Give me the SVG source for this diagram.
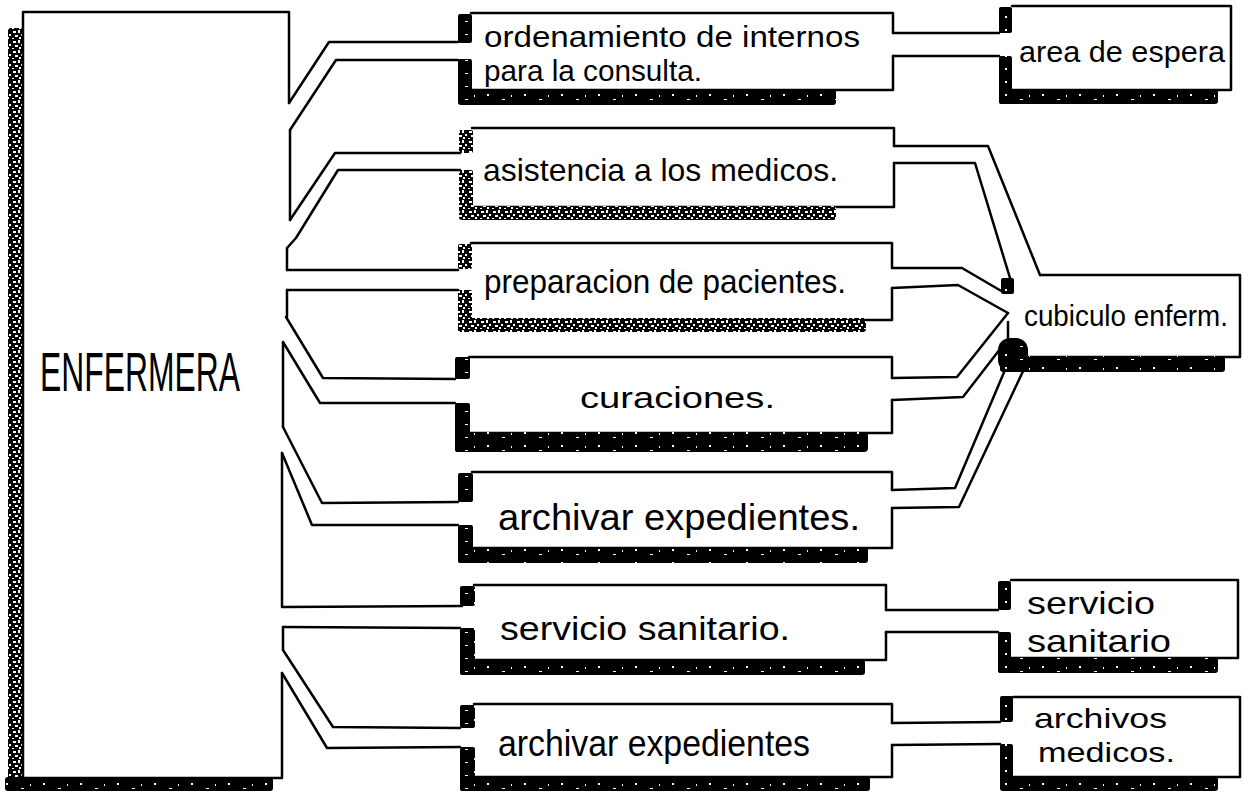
<svg xmlns="http://www.w3.org/2000/svg" width="1244" height="792" viewBox="0 0 1244 792">
<defs>
<pattern id="dk" patternUnits="userSpaceOnUse" width="37" height="13">
<rect width="37" height="13" fill="#000"/>
<rect x="6" y="3" width="2" height="2" fill="#fff"/>
<rect x="21" y="8" width="3" height="1" fill="#fff"/>
<rect x="30" y="4" width="1" height="2" fill="#fff"/>
</pattern>
<pattern id="sp" patternUnits="userSpaceOnUse" width="12" height="10">
<rect width="12" height="10" fill="#000"/>
<rect x="1" y="1" width="3" height="2" fill="#fff"/>
<rect x="6" y="0" width="2" height="3" fill="#fff"/>
<rect x="9" y="4" width="2" height="2" fill="#fff"/>
<rect x="3" y="5" width="3" height="2" fill="#fff"/>
<rect x="7" y="7" width="2" height="2" fill="#fff"/>
<rect x="0" y="8" width="2" height="1" fill="#fff"/>
</pattern>
</defs>
<style>
.o{fill:none;stroke:#000;stroke-width:2.5;stroke-linecap:round;stroke-linejoin:round}
.dk{fill:url(#dk)}
.sp{fill:url(#sp)}
.t{font-family:"Liberation Sans",Arial,sans-serif;fill:#000}
</style>
<rect width="1244" height="792" fill="#fff"/>

<g id="enfermera">
<rect class="sp" x="8" y="28" width="15" height="762" rx="3"/>
<rect class="dk" x="5" y="777" width="268" height="14" rx="3"/>
<path class="o" d="M23,12 H289 V103 M290,130 V220 M287,248 V270 M287,290 V317 M283,342 V427 M282,453 V607 M283,627 V650 M282,673 V778 H23 M23,12 V778"/>
<text class="t" x="40" y="391" font-size="56" textLength="200" lengthAdjust="spacingAndGlyphs">ENFERMERA</text>
</g>

<g id="ordenamiento">
<path class="o" d="M471,13 H893 V33 M893,56 V90 H471"/>
<rect class="dk" x="458" y="14" width="14" height="29" rx="2"/>
<rect class="dk" x="458" y="59" width="14" height="45" rx="2"/>
<rect class="dk" x="458" y="89" width="378" height="16" rx="3"/>
<text class="t" x="484" y="47" font-size="30" textLength="376" lengthAdjust="spacingAndGlyphs">ordenamiento de internos</text>
<text class="t" x="484" y="81" font-size="30" textLength="218" lengthAdjust="spacingAndGlyphs">para la consulta.</text>
</g>

<g id="asistencia">
<path class="o" d="M472,128 H894 V146 M894,163 V207 H472"/>
<rect class="sp" x="459" y="130" width="14" height="23" rx="2"/>
<rect class="sp" x="459" y="170" width="14" height="49" rx="2"/>
<rect class="sp" x="459" y="206" width="377" height="14" rx="3"/>
<text class="t" x="483" y="181" font-size="32" textLength="355" lengthAdjust="spacingAndGlyphs">asistencia a los medicos.</text>
</g>

<g id="preparacion">
<path class="o" d="M471,243 H892 V268 M892,288 V320 H471"/>
<rect class="sp" x="458" y="244" width="14" height="25" rx="2"/>
<rect class="sp" x="458" y="290" width="14" height="42" rx="2"/>
<rect class="sp" x="458" y="318" width="408" height="14" rx="3"/>
<text class="t" x="484" y="293" font-size="34" textLength="362" lengthAdjust="spacingAndGlyphs">preparacion de pacientes.</text>
</g>

<g id="curaciones">
<path class="o" d="M469,357 H892 V378 M892,400 V433 H469"/>
<rect class="dk" x="455" y="357" width="15" height="22" rx="2"/>
<rect class="dk" x="455" y="403" width="15" height="49" rx="2"/>
<rect class="dk" x="455" y="432" width="413" height="20" rx="4"/>
<text class="t" x="580" y="408" font-size="30" textLength="195" lengthAdjust="spacingAndGlyphs">curaciones.</text>
</g>

<g id="archivar1">
<path class="o" d="M472,472 H892 V490 M892,508 V548 H472"/>
<rect class="dk" x="458" y="473" width="15" height="29" rx="2"/>
<rect class="dk" x="458" y="525" width="15" height="38" rx="2"/>
<rect class="dk" x="458" y="547" width="410" height="16" rx="3"/>
<text class="t" x="498" y="530" font-size="36" textLength="362" lengthAdjust="spacingAndGlyphs">archivar expedientes.</text>
</g>

<g id="servicio1">
<path class="o" d="M474,585 H886 V610 M886,632 V660 H474"/>
<rect class="dk" x="460" y="586" width="15" height="20" rx="2"/>
<rect class="dk" x="460" y="628" width="15" height="47" rx="2"/>
<rect class="dk" x="460" y="659" width="405" height="16" rx="3"/>
<text class="t" x="500" y="640" font-size="34" textLength="290" lengthAdjust="spacingAndGlyphs">servicio sanitario.</text>
</g>

<g id="archivar2">
<path class="o" d="M474,704 H892 V723 M892,745 V777 H474"/>
<rect class="dk" x="460" y="705" width="15" height="23" rx="2"/>
<rect class="dk" x="460" y="747" width="15" height="44" rx="2"/>
<rect class="dk" x="460" y="776" width="410" height="15" rx="3"/>
<text class="t" x="498" y="756" font-size="36" textLength="312" lengthAdjust="spacingAndGlyphs">archivar expedientes</text>
</g>

<g id="area">
<path class="o" d="M1012,6 H1231 V90 H1012"/>
<rect class="dk" x="999" y="7" width="13" height="26" rx="2"/>
<rect class="dk" x="999" y="56" width="13" height="48" rx="2"/>
<rect class="dk" x="999" y="89" width="219" height="15" rx="3"/>
<text class="t" x="1019" y="62" font-size="30" textLength="206" lengthAdjust="spacingAndGlyphs">area de espera</text>
</g>

<g id="cubiculo">
<path class="o" d="M1040,275 H1240 V357 H1012 M1008,322 V338"/>
<rect class="dk" x="1001" y="278" width="13" height="16" rx="2"/>
<rect class="dk" x="1000" y="356" width="225" height="16" rx="3"/>
<rect class="dk" x="998" y="338" width="30" height="34" rx="12"/>
<text class="t" x="1024" y="326" font-size="30" textLength="204" lengthAdjust="spacingAndGlyphs">cubiculo enferm.</text>
</g>

<g id="servicio2">
<path class="o" d="M1011,580 H1238 V658 H1011"/>
<rect class="dk" x="998" y="581" width="13" height="29" rx="2"/>
<rect class="dk" x="998" y="632" width="13" height="41" rx="2"/>
<rect class="dk" x="998" y="657" width="220" height="16" rx="3"/>
<text class="t" x="1027" y="614" font-size="32" textLength="128" lengthAdjust="spacingAndGlyphs">servicio</text>
<text class="t" x="1027" y="652" font-size="32" textLength="144" lengthAdjust="spacingAndGlyphs">sanitario</text>
</g>

<g id="archivos">
<path class="o" d="M1013,697 H1240 V777 H1013"/>
<rect class="dk" x="1000" y="696" width="13" height="26" rx="2"/>
<rect class="dk" x="1000" y="744" width="13" height="46" rx="2"/>
<rect class="dk" x="1000" y="776" width="218" height="15" rx="3"/>
<text class="t" x="1034" y="728" font-size="28" textLength="133" lengthAdjust="spacingAndGlyphs">archivos</text>
<text class="t" x="1038" y="762" font-size="28" textLength="137" lengthAdjust="spacingAndGlyphs">medicos.</text>
</g>

<g id="connectors" class="o">
<polyline points="289,103 329,42 458,42"/>
<polyline points="290,130 336,60 458,60"/>
<polyline points="290,220 335,153 460,153"/>
<polyline points="287,248 296,238 338,170 460,170"/>
<polyline points="287,270 458,270"/>
<polyline points="287,290 458,290"/>
<polyline points="286,317 323,378 455,379"/>
<polyline points="283,342 320,403 455,403"/>
<polyline points="283,427 322,503 458,502"/>
<polyline points="282,453 312,525 458,525"/>
<polyline points="283,607 462,606"/>
<polyline points="283,627 460,628"/>
<polyline points="283,650 333,727 460,728"/>
<polyline points="282,673 327,748 460,747"/>
<polyline points="893,33 999,33"/>
<polyline points="893,56 999,56"/>
<polyline points="894,146 988,146 1040,275"/>
<polyline points="894,163 975,163 1010,278"/>
<polyline points="892,268 962,268 1003,292"/>
<polyline points="892,288 958,285 1008,313"/>
<polyline points="892,378 957,377 1008,313"/>
<polyline points="892,400 963,397 1007,340"/>
<polyline points="892,490 955,488 1005,370"/>
<polyline points="892,508 959,507 1025,367"/>
<polyline points="886,610 998,610"/>
<polyline points="886,632 998,632"/>
<polyline points="892,723 1000,722"/>
<polyline points="892,745 1000,744"/>
</g>
</svg>
